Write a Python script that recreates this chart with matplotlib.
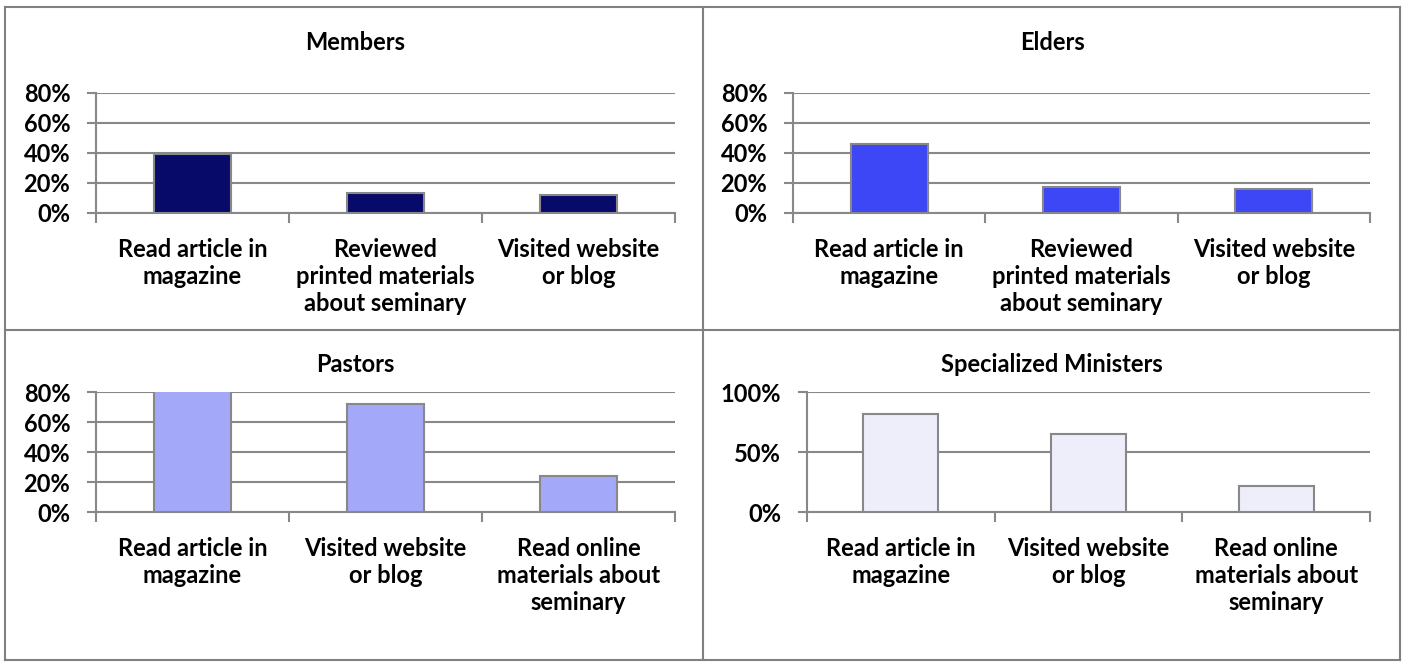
import numpy as np
import matplotlib.pyplot as plt
from matplotlib.lines import Line2D
from matplotlib.ticker import FuncFormatter

plt.rcParams['font.family'] = ['Lato', 'DejaVu Sans']
plt.rcParams['font.weight'] = 'bold'

# data
titles = ['Members', 'Elders', 'Pastors', 'Specialized Ministers']
cats_top = ['Read article in\nmagazine', 'Reviewed\nprinted materials\nabout seminary', 'Visited website\nor blog']
cats_bot = ['Read article in\nmagazine', 'Visited website\nor blog', 'Read online\nmaterials about\nseminary']
members = [0.39, 0.13, 0.12]
elders = [0.46, 0.17, 0.16]
pastors = [0.81, 0.72, 0.24]
specialized = [0.82, 0.65, 0.22]
colors = ['#080a6a', '#3d47f5', '#a4a8f8', '#eeeefa']

W, H = 1405, 665
fig = plt.figure(figsize=(W / 100, H / 100), dpi=100)

# (left, right, top, bottom) in pixels
boxes = [(96, 675, 93, 213), (793, 1370, 93, 213),
         (96, 675, 392, 512), (807, 1370, 392, 512)]
values = [members, elders, pastors, specialized]
cats = [cats_top, cats_top, cats_bot, cats_bot]
ylims = [0.8, 0.8, 0.8, 1.0]
ysteps = [0.2, 0.2, 0.2, 0.5]
title_y = [42, 42, 365, 364]
title_x = [355, 1052, 355, 1052]

fs = 17
grey = '#888888'
for i in range(4):
    l, r, t, b = boxes[i]
    ax = fig.add_axes([l / W, 1 - b / H, (r - l) / W, (b - t) / H])
    x = np.arange(3)
    ax.bar(x, values[i], width=0.4, color=colors[i], edgecolor=grey, linewidth=1.5, zorder=3)
    ax.set_xlim(-0.5, 2.5)
    ax.set_ylim(0, ylims[i])
    ax.set_yticks(np.arange(0, ylims[i] + 0.001, ysteps[i]))
    ax.yaxis.set_major_formatter(FuncFormatter(lambda v, p: '%d%%' % round(v * 100)))
    ax.yaxis.grid(True, color=grey, linewidth=1.5, zorder=0)
    ax.set_xticks([-0.5, 0.5, 1.5, 2.5])
    ax.set_xticklabels([])
    ax.set_xticks(x, minor=True)
    ax.set_xticklabels(cats[i], minor=True, fontsize=fs, fontweight='bold', linespacing=1.2, va='top')
    ax.tick_params(axis='x', which='minor', length=0, pad=18)
    ax.tick_params(axis='x', which='major', length=7, width=1.5, color=grey, direction='out')
    ax.tick_params(axis='y', length=6.5, width=1.5, color=grey, labelsize=fs, pad=12)
    for lab in ax.get_yticklabels():
        lab.set_fontweight('bold')
    for s in ['top', 'right']:
        ax.spines[s].set_visible(False)
    for s in ['left', 'bottom']:
        ax.spines[s].set_color(grey)
        ax.spines[s].set_linewidth(1.5)
    ax.set_facecolor('none')
    fig.text(title_x[i] / W, 1 - title_y[i] / H, titles[i], ha='center', va='center',
             fontsize=fs, fontweight='bold')

# cell borders
def hline(y, x0, x1):
    fig.add_artist(Line2D([x0 / W, x1 / W], [1 - y / H, 1 - y / H], color='#808080', lw=1.5))

def vline(x, y0, y1):
    fig.add_artist(Line2D([x / W, x / W], [1 - y0 / H, 1 - y1 / H], color='#808080', lw=1.5))

hline(7, 5, 1400)
hline(330, 5, 1400)
hline(660, 5, 1400)
vline(5, 7, 660)
vline(703, 7, 660)
vline(1400, 7, 660)

plt.savefig('out.png', dpi=100)
